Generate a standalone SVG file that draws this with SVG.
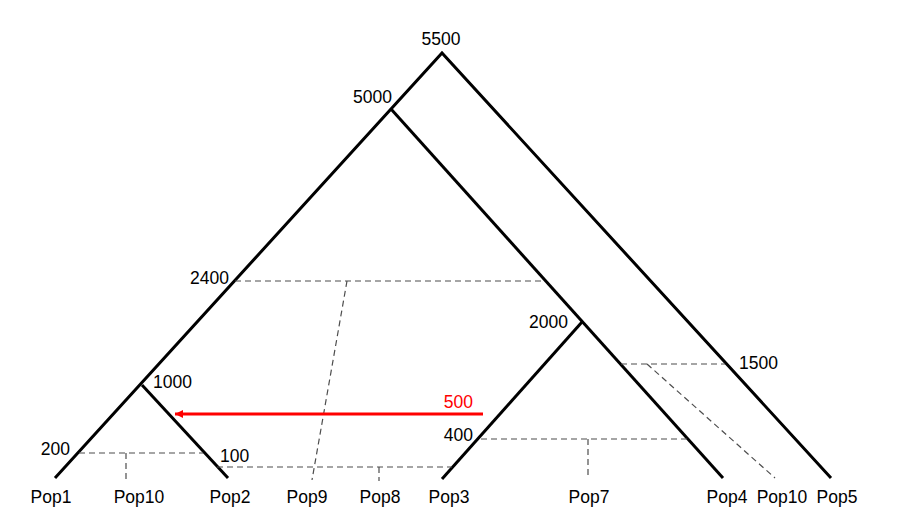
<svg xmlns="http://www.w3.org/2000/svg" width="898" height="522" viewBox="0 0 898 522">
<style>
.br{stroke:#000;stroke-width:3;fill:none;stroke-linecap:butt}
.ds{stroke:#4d4d4d;stroke-width:1.2;fill:none;stroke-dasharray:6,4}
text{font-family:"Liberation Sans",Arial,sans-serif;font-size:17.5px;fill:#000}
.c{text-anchor:middle}
.e{text-anchor:end}
</style>
<defs>
<marker id="ah" viewBox="0 0 10 10" refX="10" refY="5" markerWidth="2.8" markerHeight="2.8" orient="auto">
<path d="M0,0 L10,5 L0,10 z" fill="#ff0000"/>
</marker>
</defs>
<rect width="898" height="522" fill="#fff"/>
<g id="connectors">
<path class="br" d="M55,478 L442,53 L831,478"/>
<path class="br" d="M391,109 L723,478"/>
<path class="br" d="M582,322 L442,479"/>
<path class="br" d="M142,385 L228,478"/>
<path class="ds" d="M235,281 H545 M347,281 L312,480"/>
<path class="ds" d="M79,453 H203 M126,453 V480"/>
<path class="ds" d="M217,467 H452 M379,467 V481"/>
<path class="ds" d="M481,439 H687 M588,439 V477"/>
<path class="ds" d="M621,364 H725 M647,364 L775,478"/>
<line x1="483" y1="414" x2="175" y2="414" stroke="#ff0000" stroke-width="3" marker-end="url(#ah)"/>
</g>
<g id="labels">
<text class="c" x="441" y="45">5500</text>
<text class="e" x="392" y="103">5000</text>
<text class="e" x="229" y="284">2400</text>
<text class="e" x="568" y="328">2000</text>
<text x="153" y="388">1000</text>
<text class="e" x="70" y="455">200</text>
<text x="220" y="462">100</text>
<text x="739" y="369">1500</text>
<text class="e" x="473" y="408" style="fill:#ff0000">500</text>
<text class="e" x="473" y="441">400</text>
</g>
<g id="Pop1"><text class="c" x="51" y="503">Pop1</text></g>
<g id="Pop10a"><text class="c" x="139" y="503">Pop10</text></g>
<g id="Pop2"><text class="c" x="230" y="503">Pop2</text></g>
<g id="Pop9"><text class="c" x="307" y="503">Pop9</text></g>
<g id="Pop8"><text class="c" x="380" y="503">Pop8</text></g>
<g id="Pop3"><text class="c" x="449" y="503">Pop3</text></g>
<g id="Pop7"><text class="c" x="589" y="503">Pop7</text></g>
<g id="Pop4"><text class="c" x="727" y="503">Pop4</text></g>
<g id="Pop10b"><text class="c" x="782" y="503">Pop10</text></g>
<g id="Pop5"><text class="c" x="837" y="503">Pop5</text></g>
</svg>
